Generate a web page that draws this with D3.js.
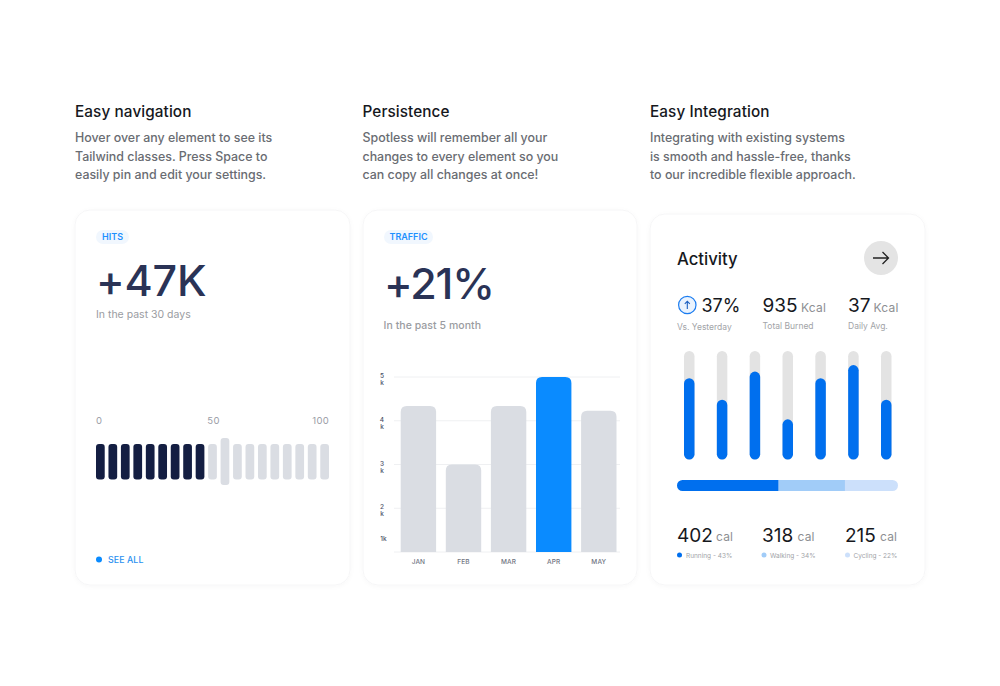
<!DOCTYPE html>
<html><head><meta charset="utf-8">
<script src="https://cdn.jsdelivr.net/npm/d3@7/dist/d3.min.js"></script>
<style>html,body{margin:0;padding:0;background:#fff}svg{display:block}text{font-family:Inter,"Noto Sans",sans-serif}</style>
</head><body><svg id="c" width="1000" height="686"></svg>
<script>
const headings=["Easy navigation","Persistence","Easy Integration"];
const blurbs=[["Hover over any element to see its","Tailwind classes. Press Space to","easily pin and edit your settings."],
["Spotless will remember all your","changes to every element so you","can copy all changes at once!"],
["Integrating with existing systems","is smooth and hassle-free, thanks","to our incredible flexible approach."]];
const hitSteps=d3.range(19);
const hitFilled=9, hitActive=10;
const hitTicks=[0,50,100];
const months=["JAN","FEB","MAR","APR","MAY"];
const traffic=[4.34,3.0,4.34,5.0,4.23];
const trafficTicks=[1,2,3,4,5];
const activity=[75,55,81,37,75,87,55];
const splitNames=["Running - 43%","Walking - 34%","Cycling - 22%"];
const splitCal=[402,318,215];
const splitWidths=[46,30,24];
const splitColors=["#006fee","#a1ccf8","#cce0fb"];

const svg=d3.select("#c");
const txt=(s,x,y,size,fill,weight=400,anchor="start",ls=0)=>svg.append("text").attr("x",x).attr("y",y).attr("font-size",size).attr("fill",fill).attr("font-weight",weight).attr("text-anchor",anchor).attr("letter-spacing",ls).text(s);

// headings
const colX=[75,362.5,650];
colX.forEach((x,i)=>{
  txt(headings[i],x,116.5,15.3,"#16181d",500,"start",.1);
  blurbs[i].forEach((l,j)=>txt(l,x,142+j*18.5,12.4,"#696c72",500,"start",0));
});

// cards
const defs=svg.append("defs");
const f=defs.append("filter").attr("id","s").attr("x","-10%").attr("y","-10%").attr("width","120%").attr("height","120%");
f.append("feDropShadow").attr("dx",0).attr("dy",1).attr("stdDeviation",2).attr("flood-color","#000").attr("flood-opacity",.03);
[[75,210,275,375],[363,210,274,375],[650,214,275,371]].forEach(c=>{
  svg.append("rect").attr("x",c[0]).attr("y",c[1]).attr("width",c[2]).attr("height",c[3]).attr("rx",15).attr("fill","#fff").attr("stroke","#f6f6f7").attr("filter","url(#s)");
});

// card 1
svg.append("rect").attr("x",96).attr("y",230).attr("width",33).attr("height",14).attr("rx",7).attr("fill","#f1f7fe");
txt("HITS",112.5,240,9,"#1e90ff",600,"middle");
txt("+47K",96,296,43,"#2a3356",500,"start",-.2);
txt("In the past 30 days",96,317.5,10.5,"#9a9ca1",400,"start",0);
const xHit=d3.scaleBand().domain(hitSteps).range([96,329]).paddingInner(.3).paddingOuter(0);
svg.append("g").selectAll("rect").data(hitSteps).join("rect")
 .attr("x",d=>xHit(d)).attr("width",xHit.bandwidth())
 .attr("y",d=>d===hitActive?438:444).attr("height",d=>d===hitActive?47:35.5).attr("rx",3)
 .attr("fill",d=>d<hitFilled?"#141e42":"#dadde3");
hitTicks.forEach((t,i)=>txt(t,i==0?96:i==1?213.5:329,424,9.5,"#9a9ca6",400,i==0?"start":i==1?"middle":"end",.3));
svg.append("circle").attr("cx",99).attr("cy",559.5).attr("r",3).attr("fill","#0a8bff");
txt("SEE ALL",108,563,8.8,"#2a90f0",500,"start",.1);

// card 2
svg.append("rect").attr("x",384).attr("y",230).attr("width",49).attr("height",14).attr("rx",7).attr("fill","#f1f7fe");
txt("TRAFFIC",408.5,240,9,"#1e90ff",600,"middle");
txt("+21%",384,299,43,"#2a3356",500,"start",-1.2);
txt("In the past 5 month",383.5,328.5,10.5,"#9a9ca1",500,"start",.05);
const y=d3.scaleLinear().domain([1,5]).range([552,377]);
const x=d3.scaleBand().domain(months).range([395.85,621.35]).paddingInner(.215).paddingOuter(.1075);
svg.append("g").selectAll("line").data(trafficTicks).join("line")
 .attr("x1",394).attr("x2",620).attr("y1",d=>y(d)).attr("y2",d=>y(d)).attr("stroke","#eff0f2");
const topRound=(x0,y0,w,h,r)=>`M${x0},${y0+h}V${y0+r}Q${x0},${y0} ${x0+r},${y0}H${x0+w-r}Q${x0+w},${y0} ${x0+w},${y0+r}V${y0+h}Z`;
svg.append("g").selectAll("path").data(months).join("path")
 .attr("d",(m,i)=>topRound(x(m),y(traffic[i]),x.bandwidth(),y(1)-y(traffic[i]),6))
 .attr("fill",m=>m==="APR"?"#0a8bff":"#dadde3");
months.forEach(m=>txt(m,x(m)+x.bandwidth()/2,563.5,6.5,"#70747f",500,"middle",.1));
trafficTicks.forEach(t=>{
  if(t===1){txt("1k",383.5,540.5,6.5,"#4a5068",500,"middle");return;}
  const yy=y(t);
  txt(t,382,yy+1,6.5,"#4a5068",500,"middle");
  txt("k",382,yy+8,6.5,"#4a5068",500,"middle");
});

// card 3
txt("Activity",677,264.5,16.7,"#16181d",500);
svg.append("circle").attr("cx",881).attr("cy",258).attr("r",17).attr("fill","#e4e4e4");
svg.append("path").attr("d","M873,258H888.5M882.5,252L888.5,258L882.5,264").attr("fill","none").attr("stroke","#222").attr("stroke-width",1.3);
svg.append("circle").attr("cx",687.3).attr("cy",305).attr("r",8.7).attr("fill","#eaf3fe").attr("stroke","#1a7cf0").attr("stroke-width",1.2);
svg.append("path").attr("d","M687.3,309V301.5M684.8,303.8L687.3,301.2L689.8,303.8").attr("fill","none").attr("stroke","#1a5fc0").attr("stroke-width",1.1);
txt("37%",701.5,312,18,"#16181d",400);
txt("935",762.5,312,19,"#16181d",400);
txt("Kcal",801,311.5,12,"#8d8f93",400,"start",.2);
txt("37",848,312,19,"#16181d",400);
txt("Kcal",873.5,311.5,12,"#8d8f93",400,"start",.2);
txt("Vs. Yesterday",677,330,8.5,"#a2a4a8",400);
txt("Total Burned",762.5,329,8.5,"#a2a4a8",400);
txt("Daily Avg.",848,329,8.5,"#a2a4a8",400);
const ax=d3.scaleBand().domain(d3.range(activity.length)).range([684,891.5]).paddingInner(.68).paddingOuter(0);
const ay=d3.scaleLinear().domain([0,100]).range([459.5,351]);
const g3=svg.append("g");
g3.selectAll(".t").data(activity).join("rect").attr("class","t")
 .attr("x",(d,i)=>ax(i)).attr("width",ax.bandwidth()).attr("y",ay(100)).attr("height",ay(0)-ay(100)).attr("rx",ax.bandwidth()/2).attr("fill","#e3e3e3");
g3.selectAll(".v").data(activity).join("rect").attr("class","v")
 .attr("x",(d,i)=>ax(i)).attr("width",ax.bandwidth()).attr("y",d=>ay(d)).attr("height",d=>ay(0)-ay(d)).attr("rx",ax.bandwidth()/2).attr("fill","#006fee");
// stacked bar
const sx=d3.scaleLinear().domain([0,100]).range([677,898]);
defs.append("clipPath").attr("id","pill").append("rect").attr("x",677).attr("y",480).attr("width",221).attr("height",11).attr("rx",5.5);
const cum=d3.cumsum(splitWidths);
svg.append("g").attr("clip-path","url(#pill)").selectAll("rect").data(splitWidths).join("rect")
 .attr("x",(d,i)=>sx(cum[i]-d)).attr("width",d=>sx(d)-sx(0)).attr("y",480).attr("height",11).attr("fill",(d,i)=>splitColors[i]);
const calX=[677,762,845];
const unitX=[716,797.5,880];
splitCal.forEach((v,i)=>{
  txt(v,calX[i],541.5,19,"#16181d",400);
  txt("cal",unitX[i],541,12,"#8d8f93",400,"start",.2);
  svg.append("circle").attr("cx",[679.5,764,847.5][i]).attr("cy",555).attr("r",2.5).attr("fill",splitColors[i]);
  txt(splitNames[i],[686,770,853.5][i],557.5,6.5,"#a2a4a8",400);
});
</script></body></html>
